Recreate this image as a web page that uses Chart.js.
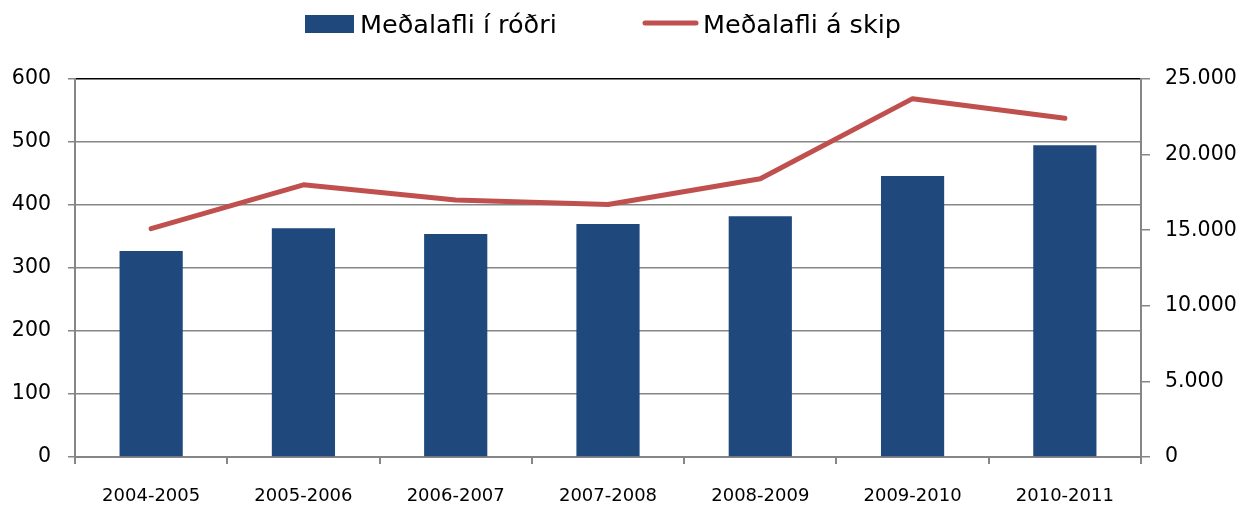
<!DOCTYPE html>
<html>
<head>
<meta charset="utf-8">
<script src="https://cdn.jsdelivr.net/npm/chart.js@4"></script>
<style>
  html, body { margin: 0; padding: 0; background: #fff; }
  #wrap { width: 1253px; height: 506px; }
</style>
</head>
<body>
<div id="wrap"><canvas id="chart" width="1253" height="506"></canvas></div>
<script>
// Data
const seasons = ['2004-2005', '2005-2006', '2006-2007', '2007-2008', '2008-2009', '2009-2010', '2010-2011'];
const catchPerTrip = [327, 363, 354, 370, 382, 446, 495];          // Meðalafli í róðri (left axis)
const catchPerVessel = [15100, 18000, 17000, 16700, 18400, 23700, 22400]; // Meðalafli á skip (right axis)
const leftTicks = [0, 100, 200, 300, 400, 500, 600];
const rightTicks = [0, 5000, 10000, 15000, 20000, 25000];

const FONT = '"DejaVu Sans", "Noto Sans", sans-serif';
const GRID = '#868686';
const BAR = '#1F497D';
const LINE = '#C0504D';

function isNum(v) {
    return String(v).replace(/\B(?=(\d{3})+(?!\d))/g, '.');
}

// legend drawn by hand so the two items sit where the original has them
const legendPlugin = {
    id: 'topLegend',
    afterDraw(chart) {
        const ctx = chart.ctx;
        const ds = chart.data.datasets;
        ctx.save();
        ctx.font = '25.5px ' + FONT;
        ctx.textBaseline = 'alphabetic';
        // bar swatch
        ctx.fillStyle = ds[0].backgroundColor;
        ctx.fillRect(305, 15, 49, 18);
        ctx.fillStyle = '#000';
        ctx.fillText(ds[0].label, 360, 32.5);
        // line swatch
        ctx.strokeStyle = ds[1].borderColor;
        ctx.lineWidth = 5;
        ctx.lineCap = 'round';
        ctx.beginPath();
        ctx.moveTo(645, 23);
        ctx.lineTo(696, 23);
        ctx.stroke();
        ctx.fillText(ds[1].label, 703, 32.5);
        ctx.restore();
    }
};

new Chart(document.getElementById('chart'), {
    type: 'bar',
    data: {
        labels: seasons,
        datasets: [
            {
                type: 'bar',
                label: 'Meðalafli í róðri',
                data: catchPerTrip,
                backgroundColor: BAR,
                borderWidth: 0,
                barPercentage: 0.415,
                categoryPercentage: 1,
                yAxisID: 'y'
            },
            {
                type: 'line',
                label: 'Meðalafli á skip',
                data: catchPerVessel,
                borderColor: LINE,
                backgroundColor: LINE,
                borderWidth: 5,
                pointRadius: 0,
                tension: 0,
                borderCapStyle: 'round',
                borderJoinStyle: 'round',
                yAxisID: 'y1'
            }
        ]
    },
    options: {
        responsive: false,
        animation: false,
        devicePixelRatio: 1,
        layout: { padding: { top: 79, left: 0, right: 0, bottom: 0 } },
        plugins: {
            legend: { display: false },
            tooltip: { enabled: false }
        },
        scales: {
            x: {
                offset: true,
                grid: { offset: true, drawOnChartArea: false, color: GRID, tickLength: 7, lineWidth: 2 },
                border: { color: GRID, width: 2 },
                ticks: { color: '#000', font: { family: FONT, size: 18 }, padding: 22, maxRotation: 0 },
                afterFit: s => { s.height = 49; }
            },
            y: {
                position: 'left',
                min: 0, max: 600,
                afterBuildTicks: s => { s.ticks = leftTicks.map(v => ({ value: v })); },
                grid: {
                    color: c => (c.tick && c.tick.value === 600 ? '#000' : GRID),
                    tickColor: GRID,
                    lineWidth: 1.5,
                    tickLength: 7
                },
                border: { color: GRID, width: 2 },
                ticks: { color: '#000', font: { family: FONT, size: 20.5 }, padding: 17 },
                afterFit: s => { s.width = 75; }
            },
            y1: {
                position: 'right',
                min: 0, max: 25000,
                afterBuildTicks: s => { s.ticks = rightTicks.map(v => ({ value: v })); },
                grid: { drawOnChartArea: false, color: GRID, tickLength: 9, lineWidth: 1.5 },
                border: { color: GRID, width: 2 },
                ticks: { color: '#000', font: { family: FONT, size: 20.5 }, padding: 15, callback: v => isNum(v) },
                afterFit: s => { s.width = 112; }
            }
        }
    },
    plugins: [legendPlugin]
});
</script>
</body>
</html>
